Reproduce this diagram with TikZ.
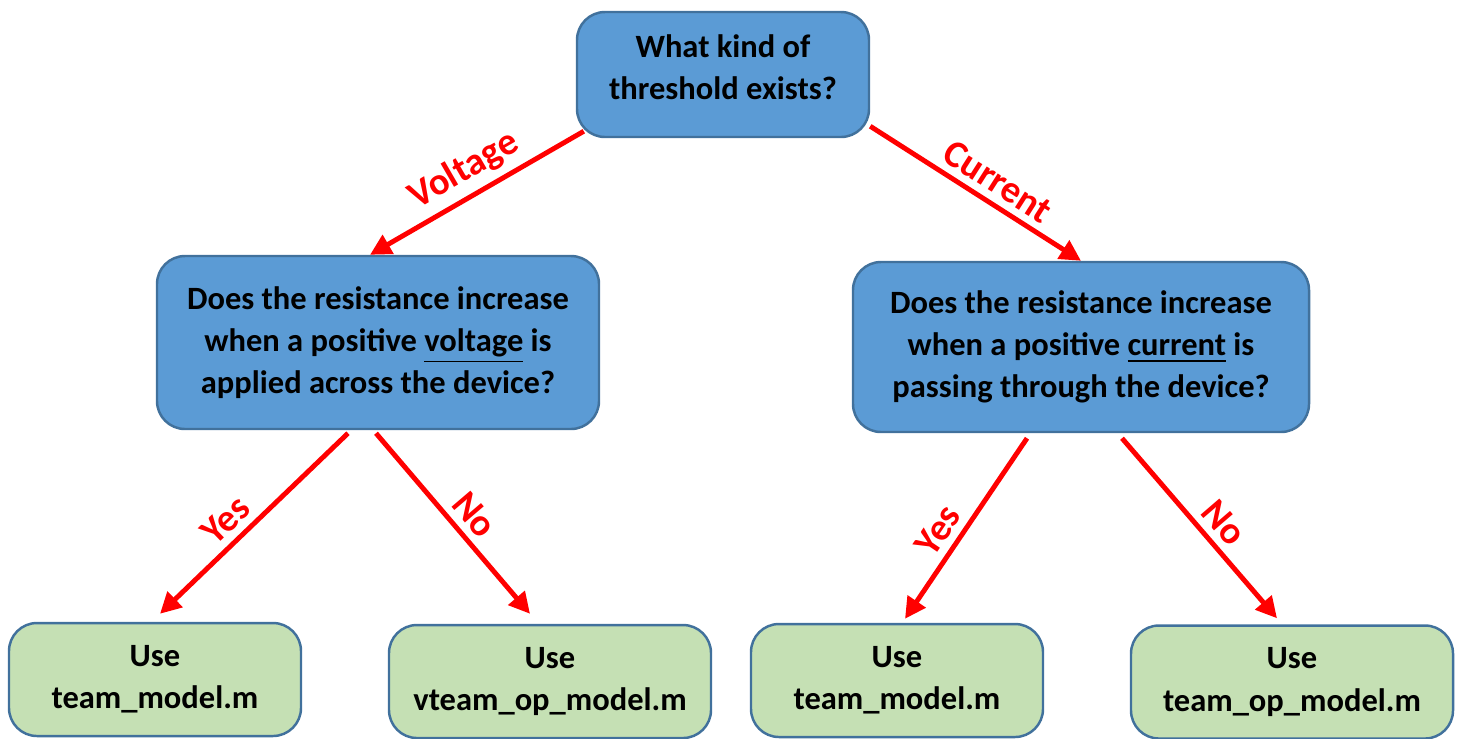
\documentclass[tikz,border=0pt]{standalone}
\usepackage{fontspec}
\setmainfont{Carlito}
\usetikzlibrary{arrows.meta}
\definecolor{boxblue}{HTML}{5B9BD5}
\definecolor{boxedge}{HTML}{41719C}
\definecolor{boxgreen}{HTML}{C5E0B4}
\begin{document}
\begin{tikzpicture}[question/.style={draw=boxedge, fill=boxblue, rounded corners=0.28cm, line width=0.7pt, align=center, inner sep=0pt, font=\fontsize{9.25}{12}\selectfont\bfseries},
        answer/.style={question, fill=boxgreen, minimum height=1.13cm},
        branch/.style={draw=red, line width=1.4pt, -{Triangle[length=0.21cm,width=0.21cm]}},
        tag/.style={red, sloped, above, inner sep=2pt, font=\fontsize{10.9}{13}\selectfont\bfseries}]
        \useasboundingbox (0,0) rectangle (14.61,-7.38);
        \node[question, minimum width=2.92cm, minimum height=1.25cm] (kind) at (7.23,-0.745) {What kind of\\threshold exists?\\[-8pt]};
        \node[question, minimum width=4.42cm, minimum height=1.73cm] (volt) at (3.78,-3.425) {Does the resistance increase\\when a positive \underline{voltage} is\\applied across the device?};
        \node[question, minimum width=4.56cm, minimum height=1.70cm] (curr) at (10.81,-3.47) {Does the resistance increase\\when a positive \underline{current} is\\passing through the device?};
        \node[answer, minimum width=2.92cm] (vyes) at (1.55,-6.795) {Use\\team\_model.m};
        \node[answer, minimum width=3.22cm] (vno) at (5.50,-6.815) {Use\\vteam\_op\_model.m};
        \node[answer, minimum width=2.92cm] (cyes) at (8.97,-6.805) {Use\\team\_model.m};
        \node[answer, minimum width=3.22cm] (cno) at (12.92,-6.82) {Use\\team\_op\_model.m};
        % branches
        \draw[branch] ([xshift=0.08cm,yshift=0.07cm]kind.south west) -- node[tag, pos=0.5] {Voltage} ([xshift=-0.08cm]volt.north);
        \draw[branch] ([yshift=0.12cm]kind.south east) -- node[tag, pos=0.55] {Current} (curr.north);
        \draw[branch] ([xshift=-0.30cm,yshift=-0.03cm]volt.south) -- node[tag, pos=0.57] {Yes} ([xshift=0.05cm,yshift=0.08cm]vyes.north);
        \draw[branch] ([xshift=-0.02cm,yshift=-0.03cm]volt.south) -- node[tag, pos=0.53] {No} ([xshift=-0.20cm,yshift=0.10cm]vno.north);
        \draw[branch] ([xshift=-0.54cm,yshift=-0.05cm]curr.south) -- node[tag, pos=0.58] {Yes} ([xshift=0.08cm,yshift=0.04cm]cyes.north);
        \draw[branch] ([xshift=0.41cm,yshift=-0.05cm]curr.south) -- node[tag, pos=0.55] {No} ([xshift=-0.15cm,yshift=0.06cm]cno.north);
        \end{tikzpicture}
\end{document}
